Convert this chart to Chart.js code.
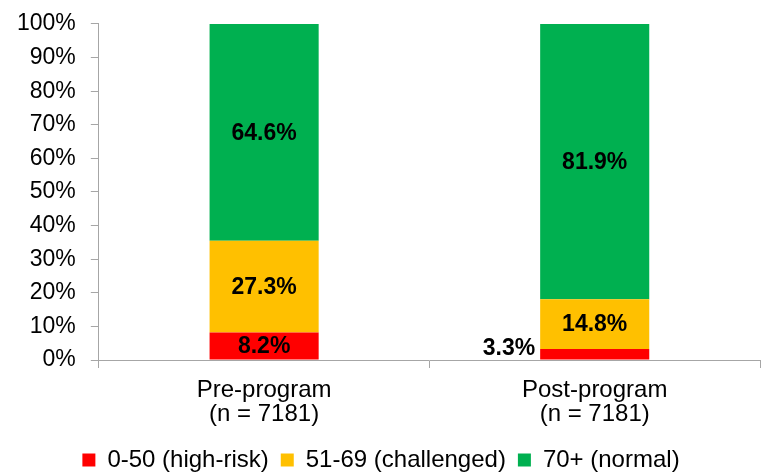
<!DOCTYPE html>
<html>
<head>
<meta charset="utf-8">
<script src="https://cdn.jsdelivr.net/npm/chart.js@4"></script>
<style>
  html, body { margin: 0; padding: 0; background: #fff; }
  #wrap { width: 762px; height: 473px; }
</style>
</head>
<body>
<div id="wrap"><canvas id="chart"></canvas></div>
<script>
// data
const categories = [["Pre-program", "(n = 7181)"], ["Post-program", "(n = 7181)"]];
const seriesNames = ["0-50 (high-risk)", "51-69 (challenged)", "70+ (normal)"];
const highRisk   = [8.2, 3.3];
const challenged = [27.3, 14.8];
const normal     = [64.6, 81.9];
const yTicks = [0, 10, 20, 30, 40, 50, 60, 70, 80, 90, 100];

const FONT = "'Liberation Sans', Arial, sans-serif";
const GREY = "#a6a6a6";

// bold % labels in each segment; tiny segments get the label to the left of the bar
const segmentLabels = {
  id: "segmentLabels",
  afterDatasetsDraw(chart) {
    const ctx = chart.ctx;
    ctx.save();
    ctx.font = "bold 23px " + FONT;
    ctx.fillStyle = "#000";
    chart.data.datasets.forEach((ds, i) => {
      const meta = chart.getDatasetMeta(i);
      meta.data.forEach((bar, j) => {
        const v = ds.data[j];
        const txt = v.toFixed(1) + "%";
        if (bar.base - bar.y < 15) {
          ctx.textAlign = "right";
          ctx.textBaseline = "alphabetic";
          ctx.fillText(txt, bar.x - bar.width / 2 - 5, bar.base - 5);
        } else {
          ctx.textAlign = "center";
          ctx.textBaseline = "middle";
          ctx.fillText(txt, bar.x, (bar.y + bar.base) / 2 + 1);
        }
      });
    });
    ctx.restore();
  }
};

new Chart(document.getElementById("chart"), {
  type: "bar",
  data: {
    labels: categories,
    datasets: [
      { label: seriesNames[0], data: highRisk,   backgroundColor: "#ff0000" },
      { label: seriesNames[1], data: challenged, backgroundColor: "#ffc000" },
      { label: seriesNames[2], data: normal,     backgroundColor: "#00b050" }
    ]
  },
  options: {
    responsive: true,
    maintainAspectRatio: false,
    animation: false,
    layout: { padding: { top: 2, right: 2, left: 2, bottom: -9 } },
    datasets: { bar: { barPercentage: 1, categoryPercentage: 0.33 } },
    plugins: {
      legend: {
        position: "bottom",
        labels: {
          boxWidth: 13, boxHeight: 13, padding: 12,
          color: "#000",
          font: { family: FONT, size: 24, lineHeight: 1.0 }
        }
      },
      tooltip: { enabled: false }
    },
    scales: {
      x: {
        stacked: true,
        grid: { display: true, drawOnChartArea: false, drawTicks: true, tickLength: 8, color: GREY, offset: true },
        border: { color: GREY },
        ticks: { color: "#000", font: { family: FONT, size: 24, lineHeight: 1.0 }, padding: 10 }
      },
      y: {
        stacked: true,
        min: 0, max: 100,
        afterBuildTicks(axis) { axis.ticks = yTicks.map(v => ({ value: v })); },
        grid: { display: true, drawOnChartArea: false, drawTicks: true, tickLength: 8, color: GREY },
        border: { color: GREY },
        ticks: { color: "#000", font: { family: FONT, size: 23, lineHeight: 0.78 }, padding: 15, callback: v => v + "%" }
      }
    }
  },
  plugins: [segmentLabels]
});
</script>
</body>
</html>
